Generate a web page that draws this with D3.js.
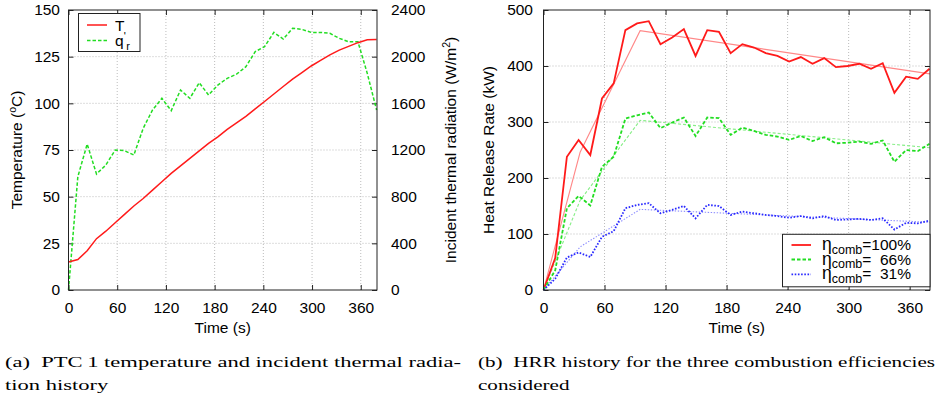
<!DOCTYPE html>
<html><head><meta charset="utf-8">
<script src="https://cdn.jsdelivr.net/npm/d3@7"></script>
<style>
body{margin:0;background:#fff;}
svg{display:block;}
text{font-family:"Liberation Sans",Arial,Helvetica,sans-serif;fill:#000;}
.ax text{font-size:15.5px;}
.ax line{stroke:#222;stroke-width:1;}
.lbl{font-size:15.5px;}
.leg{font-size:15.5px;}
.cap{font-family:"Liberation Serif","Times New Roman",serif;font-size:14.8px;}
</style></head><body>
<svg id="c" width="941" height="396"></svg>
<script>
// ---------- data ----------
const timeGrid = [0,11.5,23,34.5,46,57.5,69,80.5,92,103.5,115,126.5,138,149.5,161,172.5,184,195.5,207,218.5,230,241.5,253,264.5,276,287.5,299,310.5,322,333.5,345,356.5,368,379.5];
// (a) PTC 1 temperature (°C) and incident thermal radiation (W/m2)
const tempT = [15,16.3,21,27.5,31.5,36,40.5,45,49,53.5,58,62.5,66.5,70.5,74.5,78.5,82,86,89.5,93,97,101,105,109,113,116.5,120,123,126,128.5,130.5,132.5,134,134.2];
const qRad  = [0,971,1251,994,1071,1200,1194,1157,1386,1543,1643,1537,1714,1643,1777,1671,1757,1814,1850,1914,2043,2086,2208,2151,2243,2234,2208,2208,2200,2157,2128,2128,1857,1543];
// (b) HRR (kW)
const hrr100 = [0,57,238,268,241,342,369,464,476,480,439,451,466,418,464,461,423,439,433,423,418,408,416,404,414,398,400,404,395,405,352,381,377,395];
const hrr66  = [0,35,146,168,151,220,238,306,312,317,289,299,308,275,308,307,277,290,284,277,274,268,275,266,273,262,263,265,261,267,229,250,248,261];
const hrr31  = [0,20,58,67,59,95,105,146,152,155,137,143,150,128,152,150,134,140,137,134,132,129,132,128,132,125,126,127,125,128,108,120,119,124];
const trendTime = [0,36,95,380];
const trend100 = [0,246,463,386];
const trend66  = [0,160,303,254];
const trend31  = [0,77,144,121];
// ticks
const xTicks = [0,60,120,180,240,300,360];
const tempTicks = [0,25,50,75,100,125,150];
const radTicks = [0,400,800,1200,1600,2000,2400];
const hrrTicks = [0,100,200,300,400,500];
const legendB = ["100%","\u200766%","\u200731%"];

const svg = d3.select("#c");

function gridAndFrame(x, y, xt, yt, x0, x1, y0, y1){
  const g = svg.append("g");
  xt.filter(v=>x(v)>x0+1 && x(v)<x1-1).forEach(v=>{
    g.append("line").attr("x1",x(v)).attr("x2",x(v)).attr("y1",y0).attr("y2",y1)
     .attr("stroke","#b4b4b4").attr("stroke-width",0.9).attr("stroke-dasharray","1,2");
  });
  yt.filter(v=>y(v)>y0+1 && y(v)<y1-1).forEach(v=>{
    g.append("line").attr("x1",x0).attr("x2",x1).attr("y1",y(v)).attr("y2",y(v))
     .attr("stroke","#b4b4b4").attr("stroke-width",0.9).attr("stroke-dasharray","1,2");
  });
}
function axis(gen, tx, ty){
  const g = svg.append("g").attr("class","ax").attr("transform",`translate(${tx},${ty})`).call(gen);
  g.attr("font-size",null).attr("font-family",null);
  g.select(".domain").remove();
  return g;
}
function border(x0,y0,x1,y1){
  svg.append("rect").attr("x",x0).attr("y",y0).attr("width",x1-x0).attr("height",y1-y0)
    .attr("fill","none").attr("stroke","#222").attr("stroke-width",1);
}

// ================= (a) =================
const xL = d3.scaleLinear().domain([0,380]).range([68.5,377]);
const yL = d3.scaleLinear().domain([0,150]).range([290,10]);
const yR = d3.scaleLinear().domain([0,2400]).range([290,10]);
gridAndFrame(xL,yL,xTicks,tempTicks,68.5,377,10,290);
axis(d3.axisBottom(xL).tickValues(xTicks).tickSize(-5).tickPadding(11.5).tickFormat(d3.format("d")),0,290);
axis(d3.axisTop(xL).tickValues(xTicks).tickSize(-5).tickFormat(""),0,10);
axis(d3.axisLeft(yL).tickValues(tempTicks).tickSize(-5).tickPadding(8.5).tickFormat(d3.format("d")),68.5,0);
axis(d3.axisRight(yR).tickValues(radTicks).tickSize(-5).tickPadding(14).tickFormat(d3.format("d")),377,0);

svg.append("path").attr("d", d3.line().x((d,i)=>xL(timeGrid[i])).y(d=>yR(d))(qRad))
  .attr("fill","none").attr("stroke","#22dd22").attr("stroke-width",1.5).attr("stroke-dasharray","3.5,2");
svg.append("path").attr("d", d3.line().x((d,i)=>xL(timeGrid[i])).y(d=>yL(d))(tempT))
  .attr("fill","none").attr("stroke","#ff1a1a").attr("stroke-width",1.5);
border(68.5,10,377,290);

// legend (a)
svg.append("rect").attr("x",78.5).attr("y",13.5).attr("width",61.5).attr("height",38)
  .attr("fill","#fff").attr("stroke","#222").attr("stroke-width",1);
svg.append("line").attr("x1",87).attr("x2",107).attr("y1",25).attr("y2",25)
  .attr("stroke","#ff1a1a").attr("stroke-width",1.5);
svg.append("line").attr("x1",87).attr("x2",107).attr("y1",40.5).attr("y2",40.5)
  .attr("stroke","#22dd22").attr("stroke-width",1.5).attr("stroke-dasharray","3.5,2");
svg.append("text").attr("class","lbl").attr("x",115).attr("y",30.5).text("T");
const ql = svg.append("text").attr("class","lbl").attr("x",115).attr("y",45.5);
ql.append("tspan").text("q");
ql.append("tspan").attr("font-size","11px").attr("dy",-6).text("'");
ql.append("tspan").attr("font-size","11px").attr("dy",10).attr("dx",0.5).text("r");

// axis titles (a)
const tl = svg.append("text").attr("class","lbl").attr("text-anchor","middle")
  .attr("transform","translate(22,150) rotate(-90)");
tl.append("tspan").text("Temperature (");
tl.append("tspan").attr("font-size","10.5px").attr("dy",-6).text("o");
tl.append("tspan").attr("dy",6).text("C)");
const tr = svg.append("text").attr("class","lbl").attr("text-anchor","middle")
  .attr("transform","translate(456,150) rotate(-90)");
tr.append("tspan").text("Incident thermal radiation (W/m");
tr.append("tspan").attr("font-size","10.5px").attr("dy",-6).text("2");
tr.append("tspan").attr("dy",6).text(")");
svg.append("text").attr("class","lbl").attr("text-anchor","middle").attr("x",222.7).attr("y",333).text("Time (s)");

// ================= (b) =================
const xH = d3.scaleLinear().domain([0,380]).range([543.5,930]);
const yH = d3.scaleLinear().domain([0,500]).range([290,10]);
gridAndFrame(xH,yH,xTicks,hrrTicks,543.5,930,10,290);
axis(d3.axisBottom(xH).tickValues(xTicks).tickSize(-5).tickPadding(11.5).tickFormat(d3.format("d")),0,290);
axis(d3.axisTop(xH).tickValues(xTicks).tickSize(-5).tickFormat(""),0,10);
axis(d3.axisLeft(yH).tickValues(hrrTicks).tickSize(-5).tickPadding(10.5).tickFormat(d3.format("d")),543.5,0);
axis(d3.axisRight(yH).tickValues(hrrTicks).tickSize(-5).tickFormat(""),930,0);

const lineH = d3.line().x((d,i)=>xH(timeGrid[i])).y(d=>yH(d));
const lineT = d3.line().x((d,i)=>xH(trendTime[i])).y(d=>yH(d));
const styles = [
  {data:hrr100, trend:trend100, c:"#ff1a1a", tc:"#ff8888", dash:null, tdash:null},
  {data:hrr66,  trend:trend66,  c:"#22dd22", tc:"#88ee88", dash:"3.5,2", tdash:"3,2"},
  {data:hrr31,  trend:trend31,  c:"#2a2aff", tc:"#8c8cff", dash:"1.6,1.6", tdash:"1.4,1.6"}
];
styles.forEach(s=>{
  svg.append("path").attr("d",lineT(s.trend)).attr("fill","none").attr("stroke",s.tc)
    .attr("stroke-width",1.1).attr("stroke-dasharray",s.tdash);
});
styles.forEach(s=>{
  svg.append("path").attr("d",lineH(s.data)).attr("fill","none").attr("stroke",s.c)
    .attr("stroke-width",1.8).attr("stroke-dasharray",s.dash);
});
border(543.5,10,930,290);

// legend (b)
svg.append("rect").attr("x",782.5).attr("y",234.3).attr("width",147.5).attr("height",52.5)
  .attr("fill","#fff").attr("stroke","#222").attr("stroke-width",1);
const rowsY = [245,259.5,274.3];
legendB.forEach((lab,i)=>{
  const s = styles[i];
  svg.append("line").attr("x1",791.5).attr("x2",811).attr("y1",rowsY[i]).attr("y2",rowsY[i])
    .attr("stroke",s.c).attr("stroke-width",1.8).attr("stroke-dasharray",s.dash);
  const t = svg.append("text").attr("class","leg").attr("text-anchor","end")
    .attr("x",911).attr("y",rowsY[i]+5);
  t.append("tspan").attr("font-size","17.5px").text("η");
  t.append("tspan").attr("font-size","12.5px").attr("dy",3.5).text("comb");
  t.append("tspan").attr("dy",-3.5).text("=" + lab);
});

svg.append("text").attr("class","lbl").attr("text-anchor","middle")
  .attr("transform","translate(493.5,150) rotate(-90)").text("Heat Release Rate (kW)");
svg.append("text").attr("class","lbl").attr("text-anchor","middle").attr("x",736.7).attr("y",333).text("Time (s)");

// ================= captions =================
function caption(x, y1, y2, line1, line2, target){
  const a = svg.append("text").attr("class","cap").attr("x",x).attr("y",y1).text(line1);
  const b = svg.append("text").attr("class","cap").attr("x",x).attr("y",y2).text(line2);
  const w1 = a.node().getComputedTextLength();
  const f = target / w1;
  a.attr("textLength",target).attr("lengthAdjust","spacingAndGlyphs");
  const w2 = b.node().getComputedTextLength();
  b.attr("textLength",w2*f).attr("lengthAdjust","spacingAndGlyphs");
}
caption(5, 367, 389.5, "(a)\u2002PTC\u20091 temperature and incident thermal radia-", "tion history", 456);
caption(478, 367, 389.5, "(b)\u2002HRR history for the three combustion efficiencies", "considered", 457);
</script>
</body></html>
